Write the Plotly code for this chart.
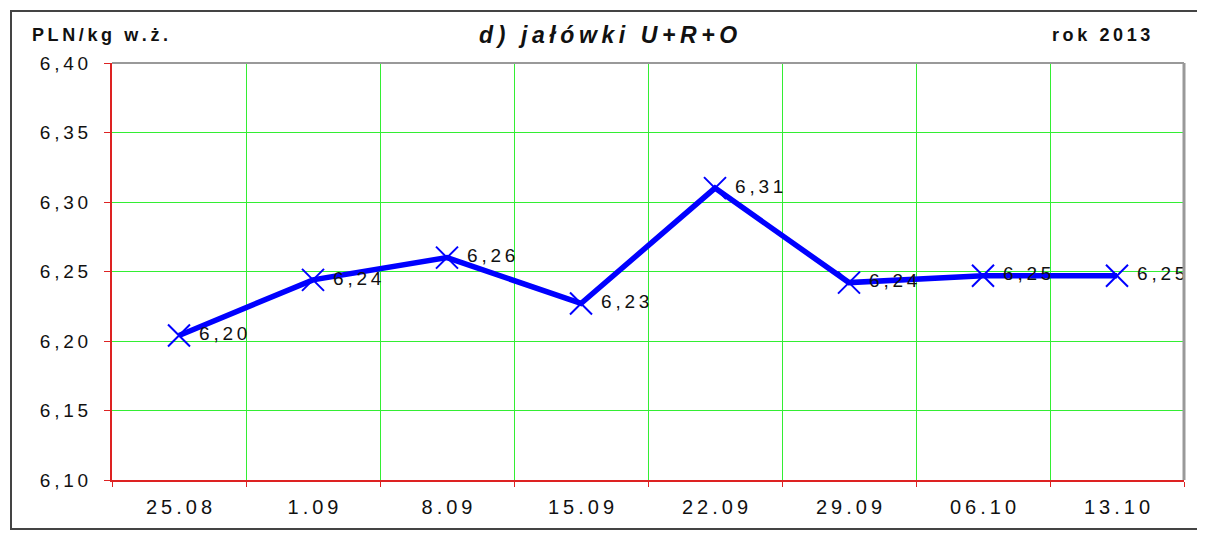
import plotly.graph_objects as go

categories = ["25.08", "1.09", "8.09", "15.09", "22.09", "29.09", "06.10", "13.10"]
prices = [6.204, 6.244, 6.260, 6.227, 6.310, 6.242, 6.247, 6.247]
y_ticks = [6.10, 6.15, 6.20, 6.25, 6.30, 6.35, 6.40]

title_text = "d) jałówki U+R+O"
unit_text = "PLN/kg w.ż."
year_text = "rok 2013"

FONT = "Liberation Sans, Arial, sans-serif"
THIN = "\u2009"
OFF = 8  # page body margin
PAGE_W, PAGE_H = 1205, 535
W, H = PAGE_W - OFF, PAGE_H - OFF
# plot area in page pixels: x 112..1184, y 63..480
L = 112 - OFF
R = PAGE_W - 1184
T = 63 - OFF
B = PAGE_H - 480
pw, ph = W - L - R, H - T - B


def spaced(s, sep=THIN):
    return sep.join(list(s))


def fmt(v):
    return f"{v:.2f}".replace(".", ",")


def px_x(x):  # page pixel -> paper
    return (x - OFF - L) / pw


def px_y(y):
    return (H - B - (y - OFF)) / ph


fig = go.Figure()
fig.add_trace(go.Scatter(
    x=categories, y=prices, mode="lines+markers+text",
    line=dict(color="#0000FF", width=5.5),
    marker=dict(symbol="x-thin", size=22, line=dict(color="#0000FF", width=2), color="#0000FF"),
    text=[" " + spaced(fmt(v)) for v in prices], textposition="middle right",
    textfont=dict(family=FONT, size=19, color="#111111"),
    cliponaxis=False, showlegend=False,
))

fig.update_layout(
    width=W, height=H,
    margin=dict(l=L, r=R, t=T, b=B),
    paper_bgcolor="white", plot_bgcolor="white",
    font=dict(family=FONT, color="#111111"),
    xaxis=dict(
        type="category", range=[-0.5, len(categories) - 0.5],
        tickmode="array", tickvals=categories, ticktext=[spaced(c) for c in categories],
        tickson="boundaries", showgrid=True, gridcolor="#33EE33", gridwidth=1,
        showline=True, linecolor="#DD2222", linewidth=2,
        ticks="outside", ticklen=5, tickcolor="#DD2222",
        tickfont=dict(size=20, family=FONT, color="#111111"), ticklabelstandoff=8,
        fixedrange=True,
    ),
    yaxis=dict(
        range=[6.10, 6.40], tickvals=y_ticks, ticktext=[spaced(fmt(v)) for v in y_ticks],
        showgrid=True, gridcolor="#33EE33", gridwidth=1, zeroline=False,
        showline=True, linecolor="#DD2222", linewidth=2,
        ticks="outside", ticklen=6, tickcolor="#DD2222",
        tickfont=dict(size=19, family=FONT, color="#111111"), ticklabelstandoff=12,
        fixedrange=True,
    ),
    shapes=[
        dict(type="line", xref="paper", yref="paper", x0=0, x1=1, y0=1, y1=1,
             line=dict(color="#999999", width=2)),
        dict(type="line", xref="paper", yref="paper", x0=1, x1=1, y0=0, y1=1,
             line=dict(color="#999999", width=3)),
        dict(type="rect", xref="paper", yref="paper",
             x0=px_x(11), x1=px_x(1201), y0=px_y(529), y1=px_y(11),
             line=dict(color="#444444", width=2), layer="below"),
    ],
    annotations=[
        dict(text=f"<b><i>{spaced(title_text)}</i></b>", xref="paper", yref="paper",
             x=px_x(608), y=px_y(35), xanchor="center", yanchor="middle", showarrow=False,
             font=dict(size=23, family=FONT, color="#111111")),
        dict(text=f"<b>{spaced(unit_text)}</b>", xref="paper", yref="paper",
             x=px_x(30), y=px_y(35), xanchor="left", yanchor="middle", showarrow=False,
             font=dict(size=18, family=FONT, color="#111111")),
        dict(text=f"<b>{spaced(year_text)}</b>", xref="paper", yref="paper",
             x=px_x(1152), y=px_y(35), xanchor="right", yanchor="middle", showarrow=False,
             font=dict(size=18, family=FONT, color="#111111")),
    ],
)

fig.write_html("out.html")
